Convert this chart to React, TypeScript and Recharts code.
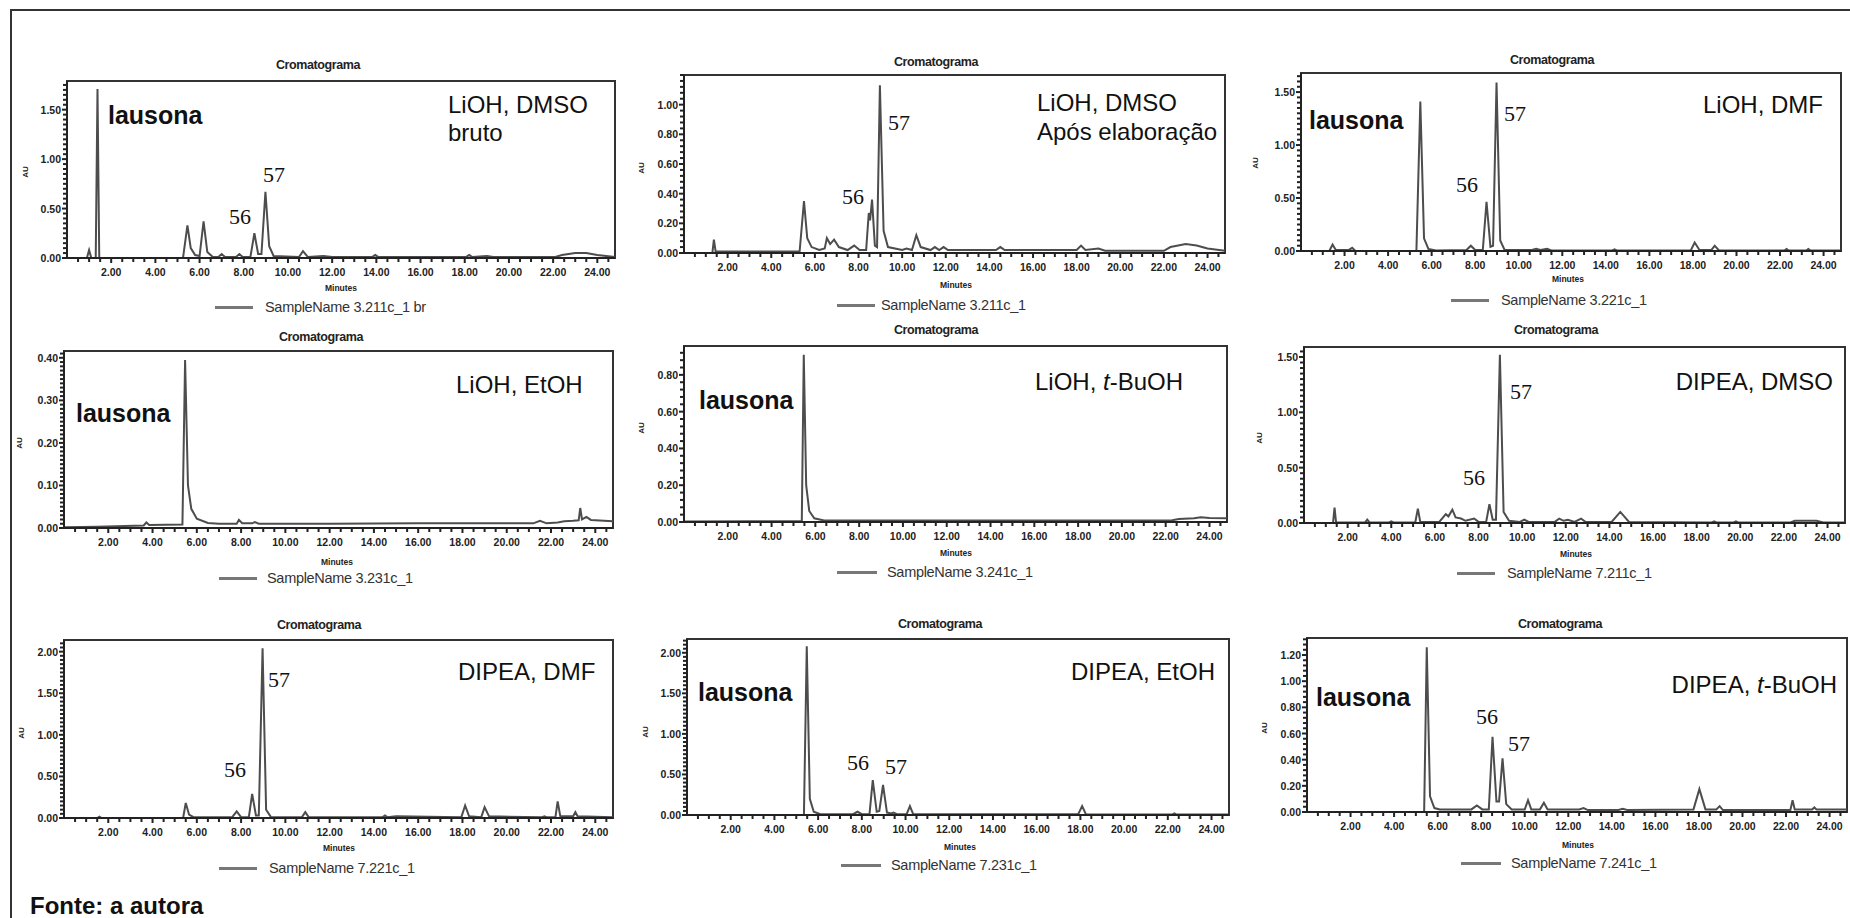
import { LineChart, Line, XAxis, YAxis, ReferenceArea } from 'recharts'

type Pt = [number, number]

// retention time (min), absorbance (AU)
const liohDmsoBruto: Pt[] = [
  [0, 0], [0.9, 0], [1.0, 0.08], [1.1, 0], [1.3, 0], [1.38, 1.71], [1.46, 0], [5.25, 0], [5.45, 0.33], [5.6, 0.1],
  [5.8, 0.03], [6.0, 0.02], [6.18, 0.37], [6.35, 0.06], [6.6, 0.01], [6.85, 0.01], [7.0, 0.04], [7.15, 0.01],
  [7.65, 0.01], [7.8, 0.04], [7.95, 0.01], [8.3, 0.01], [8.48, 0.25], [8.65, 0.04], [8.8, 0.04], [8.98, 0.67],
  [9.15, 0.12], [9.35, 0.02], [10.5, 0.01], [10.68, 0.07], [10.9, 0.01], [11.6, 0.02], [12.0, 0.01], [13.8, 0.01],
  [13.95, 0.03], [14.1, 0.01], [18.05, 0.01], [18.2, 0.03], [18.35, 0.01], [19.0, 0.02], [19.3, 0.01], [22.1, 0.01],
  [22.4, 0.03], [23.0, 0.05], [23.5, 0.05], [24.0, 0.03], [24.8, 0.01],
]
const liohDmsoApos: Pt[] = [
  [0, 0], [1.3, 0], [1.37, 0.09], [1.45, 0.01], [5.3, 0.01], [5.5, 0.35], [5.65, 0.1], [5.85, 0.04], [6.2, 0.02],
  [6.45, 0.03], [6.55, 0.1], [6.7, 0.06], [6.88, 0.09], [7.1, 0.04], [7.5, 0.02], [7.8, 0.05], [8.05, 0.02],
  [8.35, 0.02], [8.47, 0.27], [8.53, 0.22], [8.62, 0.36], [8.75, 0.05], [8.85, 0.04], [8.98, 1.13], [9.15, 0.15],
  [9.35, 0.04], [10.0, 0.02], [10.2, 0.03], [10.45, 0.02], [10.65, 0.12], [10.85, 0.04], [11.3, 0.02], [11.5, 0.04],
  [11.7, 0.02], [11.9, 0.04], [12.1, 0.02], [13.5, 0.02], [14.3, 0.02], [14.5, 0.04], [14.7, 0.02], [18.0, 0.02],
  [18.2, 0.05], [18.4, 0.02], [19.0, 0.03], [19.3, 0.015], [22.0, 0.015], [22.3, 0.04], [23.0, 0.06], [23.5, 0.05],
  [24.0, 0.03], [24.8, 0.015],
]
const liohDmf: Pt[] = [
  [0, 0], [1.3, 0], [1.45, 0.06], [1.6, 0.01], [2.2, 0.01], [2.35, 0.03], [2.5, 0], [5.3, 0], [5.48, 1.41],
  [5.65, 0.12], [5.85, 0.02], [6.2, 0.005], [7.6, 0.01], [7.8, 0.05], [8.0, 0.01], [8.35, 0.01], [8.52, 0.465],
  [8.7, 0.04], [8.82, 0.05], [8.98, 1.59], [9.15, 0.1], [9.35, 0.01], [10.6, 0.01], [10.8, 0.02], [11.0, 0.01],
  [11.3, 0.02], [11.5, 0.005], [14.3, 0.005], [14.4, 0.015], [14.5, 0.005], [17.9, 0.005], [18.08, 0.08],
  [18.3, 0.01], [18.85, 0.01], [19.0, 0.05], [19.2, 0.005], [22.2, 0.005], [22.3, 0.02], [22.4, 0.005],
  [23.2, 0.005], [23.3, 0.02], [23.4, 0.005], [24.8, 0.005],
]
const liohEtoh: Pt[] = [
  [0, 0.002], [1.5, 0.003], [3.6, 0.006], [3.72, 0.013], [3.85, 0.007], [5.35, 0.008], [5.47, 0.395], [5.6, 0.1],
  [5.75, 0.045], [6.0, 0.022], [6.5, 0.012], [7.0, 0.01], [7.8, 0.01], [7.9, 0.019], [8.05, 0.011], [8.5, 0.011],
  [8.62, 0.014], [8.8, 0.01], [12.0, 0.01], [16.0, 0.011], [21.2, 0.011], [21.5, 0.017], [21.8, 0.011],
  [22.3, 0.013], [22.6, 0.016], [23.0, 0.017], [23.25, 0.018], [23.32, 0.047], [23.4, 0.02], [23.6, 0.026],
  [23.8, 0.019], [24.8, 0.016],
]
const liohTbuoh: Pt[] = [
  [0, 0.003], [3, 0.004], [5.38, 0.005], [5.47, 0.91], [5.58, 0.2], [5.72, 0.06], [5.95, 0.02], [6.4, 0.008],
  [8, 0.008], [16, 0.008], [22.3, 0.009], [22.6, 0.016], [23.3, 0.02], [23.6, 0.026], [24, 0.022], [24.8, 0.02],
]
const dipeaDmso: Pt[] = [
  [0, 0], [1.33, 0], [1.4, 0.14], [1.47, 0.005], [2.8, 0.005], [2.9, 0.03], [3.0, 0.005], [3.9, 0.005], [4.0, 0.015],
  [4.1, 0.005], [5.1, 0.005], [5.22, 0.13], [5.33, 0.01], [6.2, 0.01], [6.5, 0.08], [6.62, 0.06], [6.8, 0.12],
  [6.95, 0.05], [7.2, 0.04], [7.4, 0.02], [7.8, 0.04], [8.0, 0.01], [8.35, 0.01], [8.5, 0.17], [8.65, 0.03],
  [8.8, 0.03], [8.98, 1.52], [9.15, 0.1], [9.4, 0.02], [9.9, 0.01], [10.1, 0.03], [10.3, 0.01], [11.5, 0.01],
  [11.7, 0.04], [11.9, 0.02], [12.1, 0.03], [12.4, 0.01], [12.7, 0.04], [12.9, 0.01], [14.1, 0.01], [14.5, 0.1],
  [14.9, 0.01], [18.7, 0.005], [18.8, 0.015], [18.9, 0.005], [19.7, 0.005], [19.8, 0.015], [19.9, 0.005],
  [22.3, 0.005], [22.5, 0.02], [23.0, 0.02], [23.5, 0.02], [23.8, 0.005], [24.8, 0.005],
]
const dipeaDmf: Pt[] = [
  [0, 0], [1.5, 0], [1.6, 0.015], [1.7, 0], [5.38, 0], [5.5, 0.18], [5.65, 0.04], [5.85, 0.01], [7.6, 0.01],
  [7.8, 0.08], [8.0, 0.01], [8.35, 0.01], [8.5, 0.29], [8.67, 0.03], [8.8, 0.03], [8.97, 2.04], [9.13, 0.1],
  [9.35, 0.01], [10.75, 0.01], [10.9, 0.07], [11.05, 0.01], [14.4, 0.01], [14.5, 0.03], [14.6, 0.01], [15.0, 0.02],
  [17.95, 0.01], [18.12, 0.15], [18.3, 0.02], [18.85, 0.01], [19.0, 0.13], [19.2, 0.02], [21.6, 0.01], [21.7, 0.02],
  [21.8, 0.01], [22.2, 0.01], [22.3, 0.2], [22.42, 0.02], [23.0, 0.02], [23.1, 0.07], [23.2, 0.02], [24.8, 0.01],
]
const dipeaEtoh: Pt[] = [
  [0, 0], [5.35, 0], [5.48, 2.08], [5.62, 0.2], [5.8, 0.04], [6.1, 0.01], [7.6, 0.01], [7.8, 0.04], [8.0, 0.01],
  [8.35, 0.01], [8.5, 0.43], [8.68, 0.04], [8.8, 0.05], [8.97, 0.37], [9.15, 0.03], [9.35, 0.02], [9.45, 0.03],
  [9.6, 0.01], [10.05, 0.01], [10.2, 0.11], [10.35, 0.01], [17.9, 0.01], [18.08, 0.11], [18.25, 0.01],
  [22.2, 0.005], [22.3, 0.02], [22.4, 0.005], [24.8, 0.005],
]
const dipeaTbuoh: Pt[] = [
  [0, 0], [5.38, 0], [5.5, 1.26], [5.65, 0.12], [5.85, 0.03], [6.1, 0.02], [7.0, 0.02], [7.55, 0.02], [7.8, 0.05],
  [8.05, 0.02], [8.35, 0.02], [8.52, 0.575], [8.7, 0.08], [8.82, 0.08], [8.98, 0.41], [9.15, 0.06], [9.4, 0.02],
  [10.0, 0.02], [10.15, 0.09], [10.3, 0.02], [10.7, 0.02], [10.88, 0.07], [11.05, 0.02], [12.5, 0.02],
  [12.7, 0.03], [12.9, 0.015], [14.3, 0.015], [14.5, 0.025], [14.7, 0.015], [17.75, 0.02], [18.02, 0.175],
  [18.3, 0.02], [18.8, 0.02], [18.95, 0.045], [19.1, 0.015], [22.2, 0.015], [22.3, 0.09], [22.4, 0.02],
  [23.2, 0.02], [23.3, 0.035], [23.4, 0.02], [24.8, 0.02],
]

const xMajor = [2, 4, 6, 8, 10, 12, 14, 16, 18, 20, 22, 24]
const xLabels = ['2.00', '4.00', '6.00', '8.00', '10.00', '12.00', '14.00', '16.00', '18.00', '20.00', '22.00', '24.00']
const yHalf15 = [0, 0.5, 1.0, 1.5]
const yHalf20 = [0, 0.5, 1.0, 1.5, 2.0]
const yTenth04 = [0, 0.1, 0.2, 0.3, 0.4]
const yFifth08 = [0, 0.2, 0.4, 0.6, 0.8]
const yFifth10 = [0, 0.2, 0.4, 0.6, 0.8, 1.0]
const yFifth12 = [0, 0.2, 0.4, 0.6, 0.8, 1.0, 1.2]
const sampleNames = ['SampleName 3.211c_1 br', 'SampleName 3.211c_1', 'SampleName 3.221c_1', 'SampleName 3.231c_1',
  'SampleName 3.241c_1', 'SampleName 7.211c_1', 'SampleName 7.221c_1', 'SampleName 7.231c_1', 'SampleName 7.241c_1']

const X_MAX = 24.8
const sans = '"Liberation Sans", Arial, sans-serif'
const serif = '"Liberation Serif", "Times New Roman", serif'
const ink = '#222'

type Note = { text: string; kind: 'main' | 'cond' | 'num'; x: number; y: number; align: 'left' | 'center' | 'right' }
type Panel = {
  trace: Pt[]; yMax: number; yMajor: number[]; yStep: number
  box: { l: number; t: number; r: number; b: number }
  title: [number, number]; minutes: [number, number]; au: [number, number]
  legend: { x1: number; x2: number; y: number; tx: number }
  notes: Note[]
}

const panels: Panel[] = [
  {
    trace: liohDmsoBruto, yMax: 1.79, yMajor: yHalf15, yStep: 0.05,
    box: { l: 67, t: 81, r: 615, b: 258 }, title: [318, 65], minutes: [341, 288], au: [26, 172],
    legend: { x1: 215, x2: 253, y: 307, tx: 265 },
    notes: [
      { text: 'lausona', kind: 'main', x: 108, y: 115, align: 'left' },
      { text: 'LiOH, DMSO', kind: 'cond', x: 448, y: 105, align: 'left' },
      { text: 'bruto', kind: 'cond', x: 448, y: 133, align: 'left' },
      { text: '57', kind: 'num', x: 274, y: 175, align: 'center' },
      { text: '56', kind: 'num', x: 240, y: 217, align: 'center' },
    ],
  },
  {
    trace: liohDmsoApos, yMax: 1.2, yMajor: yFifth10, yStep: 0.04,
    box: { l: 684, t: 75, r: 1225, b: 253 }, title: [936, 62], minutes: [956, 285], au: [642, 168],
    legend: { x1: 837, x2: 875, y: 305, tx: 881 },
    notes: [
      { text: 'LiOH, DMSO', kind: 'cond', x: 1037, y: 103, align: 'left' },
      { text: 'Após elaboração', kind: 'cond', x: 1037, y: 132, align: 'left' },
      { text: '57', kind: 'num', x: 899, y: 123, align: 'center' },
      { text: '56', kind: 'num', x: 853, y: 197, align: 'center' },
    ],
  },
  {
    trace: liohDmf, yMax: 1.68, yMajor: yHalf15, yStep: 0.05,
    box: { l: 1301, t: 73, r: 1841, b: 251 }, title: [1552, 60], minutes: [1568, 279], au: [1256, 163],
    legend: { x1: 1451, x2: 1489, y: 300, tx: 1501 },
    notes: [
      { text: 'lausona', kind: 'main', x: 1309, y: 120, align: 'left' },
      { text: 'LiOH, DMF', kind: 'cond', x: 1823, y: 105, align: 'right' },
      { text: '57', kind: 'num', x: 1515, y: 114, align: 'center' },
      { text: '56', kind: 'num', x: 1467, y: 185, align: 'center' },
    ],
  },
  {
    trace: liohEtoh, yMax: 0.416, yMajor: yTenth04, yStep: 0.01,
    box: { l: 64, t: 351, r: 613, b: 528 }, title: [321, 337], minutes: [337, 562], au: [20, 443],
    legend: { x1: 219, x2: 257, y: 578, tx: 267 },
    notes: [
      { text: 'lausona', kind: 'main', x: 76, y: 413, align: 'left' },
      { text: 'LiOH, EtOH', kind: 'cond', x: 456, y: 385, align: 'left' },
    ],
  },
  {
    trace: liohTbuoh, yMax: 0.957, yMajor: yFifth08, yStep: 0.04,
    box: { l: 684, t: 346, r: 1227, b: 522 }, title: [936, 330], minutes: [956, 553], au: [642, 428],
    legend: { x1: 837, x2: 877, y: 572, tx: 887 },
    notes: [
      { text: 'lausona', kind: 'main', x: 699, y: 400, align: 'left' },
      { text: 'LiOH, t-BuOH', kind: 'cond', x: 1035, y: 382, align: 'left' },
    ],
  },
  {
    trace: dipeaDmso, yMax: 1.59, yMajor: yHalf15, yStep: 0.05,
    box: { l: 1304, t: 347, r: 1845, b: 523 }, title: [1556, 330], minutes: [1576, 554], au: [1260, 438],
    legend: { x1: 1457, x2: 1495, y: 573, tx: 1507 },
    notes: [
      { text: 'DIPEA, DMSO', kind: 'cond', x: 1833, y: 382, align: 'right' },
      { text: '57', kind: 'num', x: 1521, y: 392, align: 'center' },
      { text: '56', kind: 'num', x: 1474, y: 478, align: 'center' },
    ],
  },
  {
    trace: dipeaDmf, yMax: 2.14, yMajor: yHalf20, yStep: 0.05,
    box: { l: 64, t: 640, r: 613, b: 818 }, title: [319, 625], minutes: [339, 848], au: [22, 733],
    legend: { x1: 219, x2: 257, y: 868, tx: 269 },
    notes: [
      { text: 'DIPEA, DMF', kind: 'cond', x: 458, y: 672, align: 'left' },
      { text: '57', kind: 'num', x: 279, y: 680, align: 'center' },
      { text: '56', kind: 'num', x: 235, y: 770, align: 'center' },
    ],
  },
  {
    trace: dipeaEtoh, yMax: 2.17, yMajor: yHalf20, yStep: 0.05,
    box: { l: 687, t: 639, r: 1229, b: 815 }, title: [940, 624], minutes: [960, 847], au: [646, 732],
    legend: { x1: 841, x2: 881, y: 865, tx: 891 },
    notes: [
      { text: 'lausona', kind: 'main', x: 698, y: 692, align: 'left' },
      { text: 'DIPEA, EtOH', kind: 'cond', x: 1071, y: 672, align: 'left' },
      { text: '56', kind: 'num', x: 858, y: 763, align: 'center' },
      { text: '57', kind: 'num', x: 896, y: 767, align: 'center' },
    ],
  },
  {
    trace: dipeaTbuoh, yMax: 1.33, yMajor: yFifth12, yStep: 0.04,
    box: { l: 1307, t: 638, r: 1847, b: 812 }, title: [1560, 624], minutes: [1578, 845], au: [1265, 728],
    legend: { x1: 1461, x2: 1501, y: 863, tx: 1511 },
    notes: [
      { text: 'lausona', kind: 'main', x: 1316, y: 697, align: 'left' },
      { text: 'DIPEA, t-BuOH', kind: 'cond', x: 1837, y: 685, align: 'right' },
      { text: '56', kind: 'num', x: 1487, y: 717, align: 'center' },
      { text: '57', kind: 'num', x: 1519, y: 744, align: 'center' },
    ],
  },
]

const xTicksAll = Array.from({ length: 49 }, (_, i) => (i + 1) * 0.5)

function XTick(props: any) {
  const { x, y, payload } = props
  const idx = xMajor.indexOf(payload.value)
  return (
    <g>
      <line x1={x} y1={y} x2={x} y2={y + (idx >= 0 ? 5 : 4)} stroke={ink} strokeWidth={2} />
      {idx >= 0 && (
        <text x={x} y={y + 14} textAnchor="middle" dominantBaseline="central" fontFamily={sans}
          fontSize={10.5} fontWeight={700} fill={ink}>{xLabels[idx]}</text>
      )}
    </g>
  )
}

function YTick(props: any) {
  const { x, y, payload, majors } = props
  const major = (majors as number[]).some(m => Math.abs(m - payload.value) < 1e-6)
  return (
    <g>
      <line x1={x - (major ? 5 : 4)} y1={y} x2={x} y2={y} stroke={ink} strokeWidth={2} />
      {major && (
        <text x={x - 6} y={y} textAnchor="end" dominantBaseline="central" fontFamily={sans}
          fontSize={10.5} fontWeight={700} fill={ink}>{payload.value.toFixed(2)}</text>
      )}
    </g>
  )
}

const Y_W = 44
const X_H = 30

function Chromatogram({ p }: { p: Panel }) {
  const { l, t, r, b } = p.box
  const data = p.trace.map(([tm, au]) => ({ t: tm, au }))
  const n = Math.floor(p.yMax / p.yStep + 1e-6)
  const yTicks = Array.from({ length: n + 1 }, (_, i) => +(i * p.yStep).toFixed(4))
  return (
    <div style={{ position: 'absolute', left: l - Y_W, top: t - 2 }}>
      <LineChart width={r - l + Y_W + 2} height={b - t + 2 + X_H} data={data}
        margin={{ top: 2, right: 2, bottom: 0, left: 0 }}>
        <XAxis type="number" dataKey="t" domain={[0, X_MAX]} allowDataOverflow ticks={xTicksAll} interval={0}
          tickSize={0} tickMargin={0} height={X_H} tick={<XTick />} axisLine={{ stroke: ink, strokeWidth: 2 }} />
        <YAxis type="number" domain={[0, p.yMax]} allowDataOverflow ticks={yTicks} interval={0}
          tickSize={0} tickMargin={0} width={Y_W} tick={<YTick majors={p.yMajor} />}
          axisLine={{ stroke: ink, strokeWidth: 2 }} />
        <ReferenceArea x1={0} x2={X_MAX} y1={0} y2={p.yMax} fill="none" stroke="#333" strokeWidth={2} />
        <Line type="linear" dataKey="au" stroke="#4d4d4d" strokeWidth={2} dot={false}
          isAnimationActive={false} />
      </LineChart>
    </div>
  )
}

function condText(s: string) {
  const i = s.indexOf('t-Bu')
  if (i < 0) return s
  return (<>{s.slice(0, i)}<i>t</i>{s.slice(i + 1)}</>)
}

function NoteText({ n }: { n: Note }) {
  const shift = n.align === 'left' ? '0' : n.align === 'center' ? '-50%' : '-100%'
  const font = n.kind === 'main'
    ? { fontFamily: sans, fontSize: 25, fontWeight: 700 }
    : n.kind === 'cond'
      ? { fontFamily: sans, fontSize: 24, fontWeight: 400 }
      : { fontFamily: serif, fontSize: 22, fontWeight: 400 }
  return (
    <div style={{ position: 'absolute', left: n.x, top: n.y, transform: `translate(${shift}, -50%)`,
      whiteSpace: 'nowrap', lineHeight: 1, color: '#111', ...font }}>
      {condText(n.text)}
    </div>
  )
}

const centered = (x: number, y: number) => ({
  position: 'absolute' as const, left: x, top: y, transform: 'translate(-50%, -50%)', whiteSpace: 'nowrap' as const,
  lineHeight: 1,
})

export default function App() {
  return (
    <div style={{ position: 'absolute', left: 0, top: 0, width: 1850, height: 918, background: '#fff',
      overflow: 'hidden', fontFamily: sans }}>
      <div style={{ position: 'absolute', left: 10, top: 9, width: 1850, height: 918,
        borderLeft: '2px solid #333', borderTop: '2px solid #333' }} />
      {panels.map((p, i) => (
        <div key={i}>
          <Chromatogram p={p} />
          <div style={{ ...centered(p.title[0], p.title[1]), fontSize: 12.5, fontWeight: 700, letterSpacing: -0.4,
            color: ink }}>Cromatograma</div>
          <div style={{ ...centered(p.minutes[0], p.minutes[1]), fontSize: 8.5, fontWeight: 700, color: ink }}>
            Minutes</div>
          <div style={{ ...centered(p.au[0], p.au[1]), fontSize: 8, fontWeight: 700, color: ink,
            transform: 'translate(-50%, -50%) rotate(-90deg)' }}>AU</div>
          <div style={{ position: 'absolute', left: p.legend.x1, top: p.legend.y - 1.5,
            width: p.legend.x2 - p.legend.x1, height: 3, background: '#777' }} />
          <div style={{ position: 'absolute', left: p.legend.tx, top: p.legend.y, transform: 'translateY(-50%)',
            whiteSpace: 'nowrap', lineHeight: 1, fontSize: 14.5, letterSpacing: -0.3, color: '#333' }}>
            {sampleNames[i]}</div>
          {p.notes.map((n, j) => <NoteText key={j} n={n} />)}
        </div>
      ))}
      <div style={{ position: 'absolute', left: 30, top: 906, transform: 'translateY(-50%)', whiteSpace: 'nowrap',
        lineHeight: 1, fontSize: 24, fontWeight: 700, color: '#111' }}>Fonte: a autora</div>
    </div>
  )
}
